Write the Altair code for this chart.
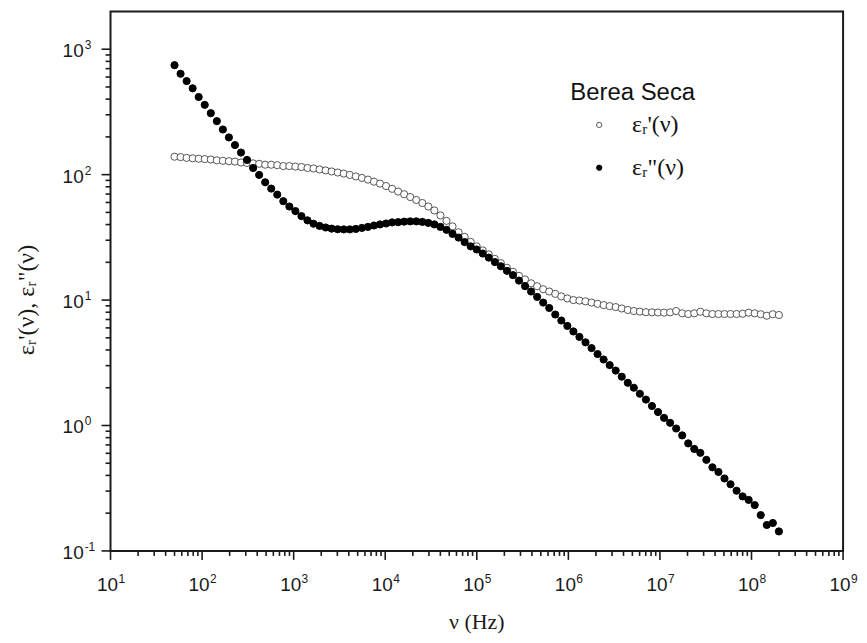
import altair as alt
import pandas as pd

# Frequencies (Hz) of the measured points
freq_hz = [
    50.0, 58.2, 67.8, 78.9, 91.8, 106.9, 124.5, 144.9, 168.7, 196.3,
    228.6, 266.1, 309.7, 360.6, 419.8, 488.7, 568.9, 662.2, 770.9, 897.5,
    1045, 1216, 1416, 1648, 1919, 2234, 2600, 3027, 3524, 4102,
    4775, 5559, 6471, 7534, 8770, 10209, 11885, 13836, 16106, 18750,
    21827, 25410, 29580, 34435, 40087, 46666, 54325, 63241, 73621, 85704,
    99770, 116145, 135207, 157398, 183231, 213304, 248313, 289068, 336512, 391742,
    456037, 530884, 618016, 719449, 837529, 974990, 1.135e6, 1.321e6, 1.538e6, 1.791e6,
    2.084e6, 2.427e6, 2.825e6, 3.289e6, 3.828e6, 4.457e6, 5.188e6, 6.039e6, 7.031e6, 8.185e6,
    9.528e6, 1.109e7, 1.291e7, 1.503e7, 1.750e7, 2.037e7, 2.371e7, 2.761e7, 3.214e7, 3.741e7,
    4.355e7, 5.070e7, 5.902e7, 6.871e7, 7.998e7, 9.311e7, 1.084e8, 1.262e8, 1.469e8, 1.710e8,
    1.991e8,
]

# Real part eps_r'(nu)  (open circles)
eps_real = [
    139, 138, 136, 135, 134, 133, 132, 130, 129, 128,
    127, 125, 124, 123, 122, 120, 120, 119, 117, 117,
    116, 115, 113, 112, 110, 108, 106, 104, 102, 99.5,
    96.8, 94.2, 91.3, 87.9, 84.8, 81.1, 77.1, 73.3, 69.8, 66.3,
    62.8, 59.4, 55.7, 51.8, 47.3, 42.8, 38.7, 34.7, 31.9, 29.1,
    26.8, 24.9, 23.1, 21.3, 19.7, 18.1, 16.8, 15.6, 14.6, 13.6,
    12.9, 12.2, 11.7, 11.2, 10.7, 10.3, 10.0, 9.91, 9.77, 9.55,
    9.33, 9.12, 8.95, 8.79, 8.57, 8.34, 8.18, 8.09, 8.00, 7.98,
    7.96, 7.94, 7.98, 8.18, 7.84, 7.74, 7.84, 8.07, 7.84, 7.74,
    7.74, 7.74, 7.74, 7.74, 7.78, 7.93, 7.84, 7.71, 7.50, 7.71,
    7.60,
]

# Imaginary part eps_r''(nu)  (filled circles)
eps_imag = [
    746, 637, 557, 488, 416, 360, 309, 267, 229, 198,
    172, 150, 131, 113, 99.5, 86.9, 77.4, 69.3, 61.4, 55.7,
    51.2, 46.7, 43.2, 40.6, 39.0, 37.9, 37.1, 36.7, 36.6, 36.6,
    36.9, 37.6, 38.3, 39.3, 40.1, 40.8, 41.6, 41.8, 42.2, 42.4,
    42.4, 42.0, 41.2, 40.1, 38.3, 36.3, 33.7, 31.5, 29.0, 26.8,
    25.3, 23.5, 21.8, 20.1, 18.6, 17.1, 15.8, 14.3, 12.9, 11.7,
    10.6, 9.55, 8.65, 7.67, 6.87, 6.22, 5.62, 5.08, 4.60, 4.14,
    3.71, 3.36, 3.03, 2.74, 2.45, 2.19, 2.00, 1.79, 1.61, 1.43,
    1.28, 1.15, 1.05, 0.946, 0.834, 0.720, 0.650, 0.605, 0.532, 0.464,
    0.426, 0.378, 0.340, 0.302, 0.272, 0.255, 0.232, 0.193, 0.161, 0.167,
    0.143,
]

series_labels = ["\u03b5\u1d63'(\u03bd)", "\u03b5\u1d63\"(\u03bd)"]
legend_title = "Berea Seca"
x_title = "\u03bd (Hz)"
y_title = "\u03b5\u1d63'(\u03bd), \u03b5\u1d63\"(\u03bd)"

x_exponents = [1, 2, 3, 4, 5, 6, 7, 8, 9]
y_exponents = [-1, 0, 1, 2, 3]
minor_mult = [2, 3, 4, 5, 6, 7, 8, 9]

X_DOMAIN = [10, 1e9]
Y_DOMAIN = [0.1, 2000]
INK = "#1a1a1a"
PLOT_W, PLOT_H = 736, 542
PX_PER_DEC_X = PLOT_W / 8.0          # 8 decades on x
PX_PER_DEC_Y = PLOT_H / 4.30103      # log10(2000/0.1) decades on y

x_major = [10.0 ** e for e in x_exponents]
y_major = [10.0 ** e for e in y_exponents]
x_minor = [m * 10.0 ** e for e in x_exponents[:-1] for m in minor_mult]
y_minor = [m * 10.0 ** e for e in y_exponents[:-1] for m in minor_mult]

rows = []
for z, (s, vals) in enumerate([(series_labels[0], eps_real), (series_labels[1], eps_imag)]):
    for f, v in zip(freq_hz, vals):
        rows.append({"f": f, "v": v, "s": s, "z": z})
df = pd.DataFrame(rows)

x_lab_df = pd.DataFrame({"t": x_major, "base": ["10"] * len(x_major), "lbl": [str(e) for e in x_exponents]})
y_lab_df = pd.DataFrame({"t": y_major, "base": ["10"] * len(y_major), "lbl": [str(e) for e in y_exponents]})
title_df = pd.DataFrame({"x_title": [x_title], "y_title": [y_title]})

legend_def = alt.Legend(
    title=legend_title, orient="none", legendX=462, legendY=70,
    titleFont="Liberation Sans", titleFontSize=24, titleFontWeight="normal", titleColor="#111",
    labelFont="Liberation Serif", labelFontSize=24, labelColor="#111",
    symbolSize=28, symbolOffset=17, labelOffset=21, rowPadding=19, titlePadding=8,
    symbolStrokeWidth=1, padding=0,
)


def xs():
    return alt.Scale(type="log", domain=X_DOMAIN, nice=False)


def ys():
    return alt.Scale(type="log", domain=Y_DOMAIN, nice=False)


points = alt.Chart(df).mark_point(shape="circle", size=52, strokeWidth=1, opacity=1).encode(
    x=alt.X("f:Q", scale=xs(), axis=None),
    y=alt.Y("v:Q", scale=ys(), axis=None),
    fill=alt.Fill("s:N", scale=alt.Scale(domain=series_labels, range=["white", "black"]), legend=legend_def),
    stroke=alt.Stroke("s:N", scale=alt.Scale(domain=series_labels, range=["#555555", "black"]), legend=legend_def),
    order=alt.Order("z:Q", sort="ascending"),
)


def x_tick_layer(values, length_px):
    # ticks below the x axis, placed through the (unclamped) log y scale
    y_end = Y_DOMAIN[0] * 10 ** (-length_px / PX_PER_DEC_Y)
    d = pd.DataFrame({"t": values, "a": [Y_DOMAIN[0]] * len(values), "b": [y_end] * len(values)})
    return alt.Chart(d).mark_rule(color=INK, strokeWidth=1.6).encode(
        x=alt.X("t:Q", scale=xs(), axis=None),
        y=alt.Y("a:Q", scale=ys(), axis=None),
        y2="b:Q",
    )


def y_tick_layer(values, length_px):
    # ticks left of the y axis, placed through the (unclamped) log x scale
    x_end = X_DOMAIN[0] * 10 ** (-length_px / PX_PER_DEC_X)
    d = pd.DataFrame({"t": values, "a": [X_DOMAIN[0]] * len(values), "b": [x_end] * len(values)})
    return alt.Chart(d).mark_rule(color=INK, strokeWidth=1.6).encode(
        y=alt.Y("t:Q", scale=ys(), axis=None),
        x=alt.X("a:Q", scale=xs(), axis=None),
        x2="b:Q",
    )


x_base = alt.Chart(x_lab_df).mark_text(
    align="center", baseline="middle", dx=-3, fontSize=19, font="Liberation Sans", color=INK
).encode(x=alt.X("t:Q", scale=xs(), axis=None), y=alt.value(PLOT_H + 34), text="base:N")

x_exp = alt.Chart(x_lab_df).mark_text(
    align="left", baseline="middle", dx=8, fontSize=12, font="Liberation Sans", color=INK
).encode(x=alt.X("t:Q", scale=xs(), axis=None), y=alt.value(PLOT_H + 28), text="lbl:N")

y_base = alt.Chart(y_lab_df).mark_text(
    align="right", baseline="middle", dy=2, fontSize=19, font="Liberation Sans", color=INK
).encode(y=alt.Y("t:Q", scale=ys(), axis=None), x=alt.value(-27), text="base:N")

y_exp = alt.Chart(y_lab_df).mark_text(
    align="left", baseline="middle", dy=-4, fontSize=12, font="Liberation Sans", color=INK
).encode(y=alt.Y("t:Q", scale=ys(), axis=None), x=alt.value(-26), text="lbl:N")

x_title_mark = alt.Chart(title_df).mark_text(
    align="center", baseline="middle", fontSize=22, font="Liberation Serif", color=INK
).encode(x=alt.value(PLOT_W / 2), y=alt.value(PLOT_H + 71), text="x_title:N")

y_title_mark = alt.Chart(title_df).mark_text(
    align="center", baseline="middle", angle=270, fontSize=24, font="Liberation Serif", color=INK
).encode(x=alt.value(-84), y=alt.value(290), text="y_title:N")

chart = alt.layer(
    points,
    x_tick_layer(x_major, 9), x_tick_layer(x_minor, 5),
    y_tick_layer(y_major, 9), y_tick_layer(y_minor, 5),
    x_base, x_exp, y_base, y_exp, x_title_mark, y_title_mark,
).properties(
    width=PLOT_W, height=PLOT_H,
    background="white",
    autosize=alt.AutoSizeParams(type="none"),
    padding={"left": 103, "top": 2, "right": 16, "bottom": 83},
).configure_view(stroke=INK, strokeWidth=2)

chart.save("out.html", embed_options={"renderer": "svg", "actions": False})
